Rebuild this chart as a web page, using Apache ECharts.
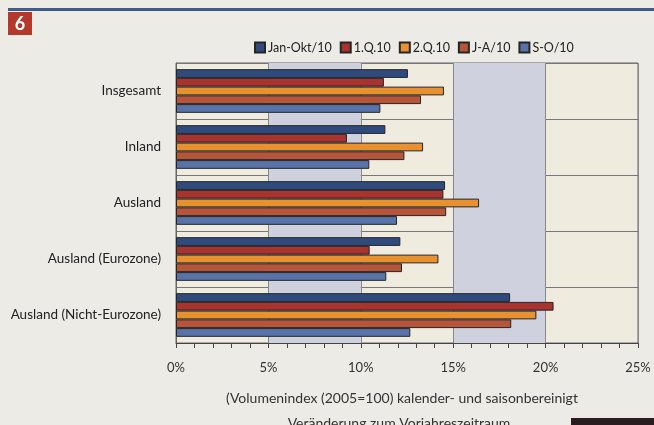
<!DOCTYPE html>
<html><head><meta charset="utf-8">
<script src="https://cdn.jsdelivr.net/npm/echarts@6/dist/echarts.min.js"></script>
<style>html,body{margin:0;padding:0;background:#ecebe5;}#c{width:654px;height:425px;position:relative;}</style>
</head><body>
<div id="c"></div>
<script>
const categories = ['Insgesamt','Inland','Ausland','Ausland (Eurozone)','Ausland (Nicht-Eurozone)'];
const seriesNames = ['Jan-Okt/10','1.Q.10','2.Q.10','J-A/10','S-O/10'];
const janOkt = [12.55, 11.33, 14.56, 12.14, 18.08];
const q1     = [11.25, 9.25, 14.47, 10.48, 20.43];
const q2     = [14.5, 13.37, 16.4, 14.2, 19.5];
const ja     = [13.26, 12.36, 14.62, 12.23, 18.14];
const so     = [11.06, 10.46, 11.96, 11.38, 12.68];
const xTicks = ['0%','5%','10%','15%','20%','25%'];
const colors = ['#2f4a7c','#a8332f','#e8912e','#b6553a','#5873a8'];
const values = [janOkt, q1, q2, ja, so];

const chart = echarts.init(document.getElementById('c'));
const font = 'Lato';
chart.setOption({
  backgroundColor: '#ecebe5',
  animation: false,
  textStyle: {fontFamily: font},
  graphic: [
    {type:'rect', shape:{x:8,y:8,width:646,height:3}, style:{fill:'#3d5b8d'}},
    {type:'rect', shape:{x:8,y:12,width:24,height:23}, style:{fill:'#b4382b'}},
    {type:'text', x:20, y:24, style:{text:'6', fill:'#fff', font:'bold 18px Lato', align:'center', verticalAlign:'middle'}},
    {type:'text', x:402, y:398, style:{text:'(Volumenindex (2005=100) kalender- und saisonbereinigt', fill:'#333', font:'14px Lato', align:'center', verticalAlign:'middle'}},
    {type:'text', x:399, y:423, style:{text:'Veränderung zum Vorjahreszeitraum', fill:'#333', font:'14px Lato', align:'center', verticalAlign:'middle'}},
    {type:'rect', shape:{x:571,y:418,width:83,height:7}, style:{fill:'#2a1d22'}}
  ],
  legend: {
    top: 36, left: 249,
    itemWidth: 10, itemHeight: 10, itemGap: 8,
    icon: 'rect',
    textStyle: {fontSize: 12.5, color: '#222', fontFamily: font, padding:[0,0,0,-2]},
    data: seriesNames
  },
  grid: {left: 176, right: 16, top: 63, bottom: 82, show: true, borderColor: '#666', borderWidth: 1, backgroundColor: '#efebdf'},
  xAxis: {
    type: 'value', min: 0, max: 25, interval: 5,
    axisLine: {show: true, lineStyle: {color: '#444'}},
    axisTick: {show: true, length: 5, inside: false, lineStyle: {color: '#444'}},
    minorTick: {show: true, splitNumber: 5, length: 5, lineStyle: {color: '#444'}},
    axisLabel: {formatter: v => xTicks[v/5], fontSize: 13, color: '#333', margin: 18},
    splitLine: {show: true, lineStyle: {color: '#888'}},
    splitArea: {show: true, areaStyle: {color: ['rgba(0,0,0,0)', '#cfd1de']}}
  },
  yAxis: {
    type: 'category', data: categories, inverse: true,
    axisLine: {show: true, lineStyle: {color: '#666'}},
    axisTick: {show: false},
    splitLine: {show: true, lineStyle: {color: '#777'}},
    axisLabel: {fontSize: 13.5, color: '#222', margin: 15}
  },
  series: seriesNames.map((n, i) => ({
    name: n, type: 'bar', data: values[i],
    barGap: '0%', barCategoryGap: '22%',
    itemStyle: {color: colors[i], borderColor: '#252525', borderWidth: 1}
  }))
});
</script>
</body></html>
